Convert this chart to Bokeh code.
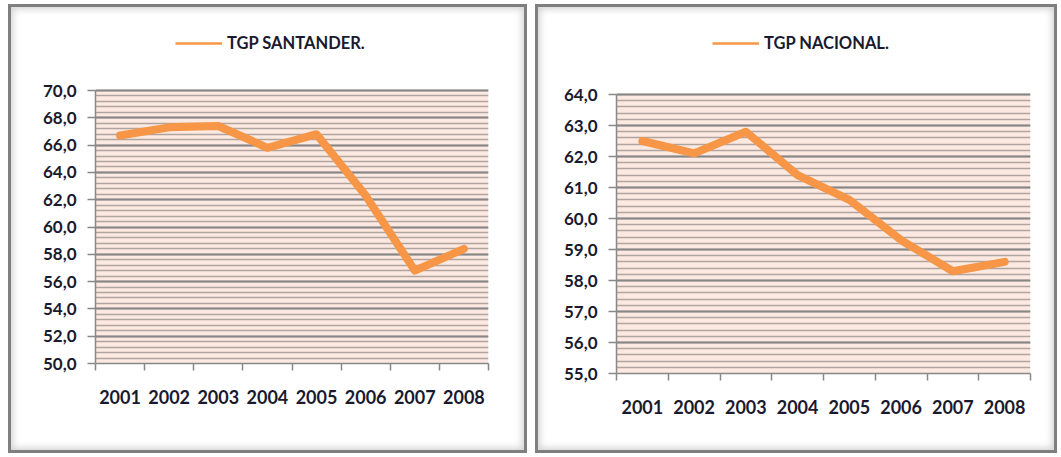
from bokeh.plotting import figure
from bokeh.layouts import row, column
from bokeh.models import FixedTicker, Legend, LegendItem, Spacer, BoxAnnotation
from bokeh.embed import file_html
from bokeh.resources import INLINE

years = ["2001", "2002", "2003", "2004", "2005", "2006", "2007", "2008"]
santander = [66.7, 67.3, 67.4, 65.8, 66.8, 62.3, 56.8, 58.4]
nacional = [62.5, 62.1, 62.8, 61.4, 60.6, 59.3, 58.3, 58.6]

LINE_COLOR = "#F79646"
TEXT_COLOR = "#1a1a2e"
FONT = "Lato"
FRAME_TOP = 20  # px from canvas top where the (white) frame starts


def make_panel(values, label, ymin, ymax, ystep, nminor, width, height,
               plot_left, plot_right, plot_top, plot_bottom, legend_xy):
    # extend the y range upward so that the legend area sits inside the frame
    per_px = (ymax - ymin) / (plot_bottom - plot_top)
    y_end = ymax + (plot_top - FRAME_TOP) * per_px
    p = figure(width=width, height=height, output_backend="svg",
               toolbar_location=None, x_range=(0, len(years)),
               y_range=(ymin, y_end), min_border_left=plot_left,
               min_border_right=width - plot_right, min_border_top=FRAME_TOP,
               min_border_bottom=height - plot_bottom)
    p.background_fill_color = None
    p.border_fill_color = None
    p.outline_line_color = None
    p.styles = {
        "background-color": "white",
        "box-shadow": "inset 0 0 0 4px white, inset 0 0 0 7px #7f7f7f, "
                      "inset 0 0 7px 9px #d2d2d2",
    }

    area = BoxAnnotation(bottom=ymin, top=ymax, fill_color="#FCE9E1",
                         fill_alpha=1, line_color=None, level="image")
    p.add_layout(area)

    xs = [i + 0.5 for i in range(len(years))]
    p.line(xs, values, line_color=LINE_COLOR, line_width=8,
           line_join="round", line_cap="round")
    dummy = p.line(x=[float("nan")], y=[float("nan")], line_color=LINE_COLOR,
                   line_width=2.5)

    # y axis
    nmaj = int(round((ymax - ymin) / ystep))
    yt = [ymin + k * ystep for k in range(nmaj + 1)]
    ym = [ymin + k * ystep / nminor for k in range(nmaj * nminor + 1)]
    p.yaxis.ticker = FixedTicker(ticks=yt, minor_ticks=ym)
    p.yaxis.bounds = (ymin, ymax)
    p.yaxis.major_label_overrides = {t: f"{t:.1f}".replace(".", ",") for t in yt}
    p.yaxis.minor_tick_line_color = None
    p.yaxis.major_tick_out = 8
    p.yaxis.major_tick_in = 0
    p.yaxis.major_tick_line_color = "#888888"
    p.yaxis.major_tick_line_width = 1.5
    p.yaxis.axis_line_color = "#888888"
    p.yaxis.axis_line_width = 1.5
    p.yaxis.major_label_standoff = 11
    p.yaxis.major_label_text_font = FONT
    p.yaxis.major_label_text_font_style = "bold"
    p.yaxis.major_label_text_font_size = "17px"
    p.yaxis.major_label_text_color = TEXT_COLOR

    # x axis
    p.xaxis.ticker = FixedTicker(ticks=xs, minor_ticks=list(range(len(years) + 1)))
    p.xaxis.major_label_overrides = {x: y for x, y in zip(xs, years)}
    p.xaxis.major_tick_out = 0
    p.xaxis.major_tick_in = 0
    p.xaxis.minor_tick_out = 7
    p.xaxis.minor_tick_in = 0
    p.xaxis.minor_tick_line_color = "#888888"
    p.xaxis.minor_tick_line_width = 1.5
    p.xaxis.axis_line_color = "#888888"
    p.xaxis.axis_line_width = 1.5
    p.xaxis.major_label_standoff = 19
    p.xaxis.major_label_text_font = FONT
    p.xaxis.major_label_text_font_style = "bold"
    p.xaxis.major_label_text_font_size = "18px"
    p.xaxis.major_label_text_color = TEXT_COLOR

    # grid
    p.xgrid.visible = False
    p.ygrid.bounds = (ymin, ymax)
    p.ygrid.grid_line_color = "#868686"
    p.ygrid.grid_line_width = 1.8
    p.ygrid.minor_grid_line_color = "#aea5a1"
    p.ygrid.minor_grid_line_width = 1.6

    legend = Legend(items=[LegendItem(label=label, renderers=[dummy])],
                    location=legend_xy)
    legend.border_line_color = None
    legend.background_fill_alpha = 0
    legend.padding = 0
    legend.margin = 0
    legend.glyph_width = 47
    legend.glyph_height = 20
    legend.label_standoff = 5
    legend.label_text_font = FONT
    legend.label_text_font_style = "bold"
    legend.label_text_font_size = "16.5px"
    legend.label_text_color = TEXT_COLOR
    p.add_layout(legend, "center")
    return p


# left panel canvas spans page x 4..531, right panel 531..1061
p1 = make_panel(santander, "TGP SANTANDER.", 50, 70, 2, 5, 527, 457,
                91, 484, 90, 363, (80, 310))
p2 = make_panel(nacional, "TGP NACIONAL.", 55, 64, 1, 5, 530, 457,
                85, 499, 94, 373, (96, 320))

layout = row(Spacer(width=4, height=457), column(p1), column(p2), spacing=0)
open("out.html", "w").write(file_html(layout, INLINE))
